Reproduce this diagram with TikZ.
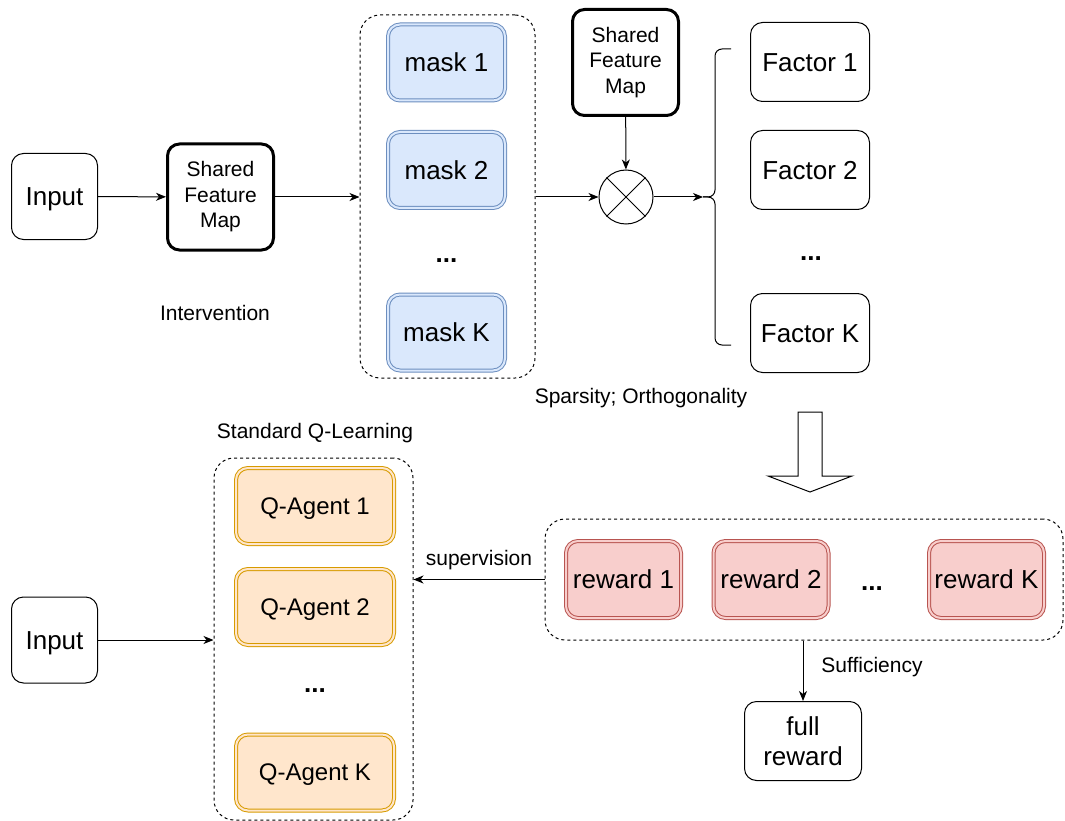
\documentclass[tikz,border=0pt]{standalone}
\usepackage{fontspec}
\setmainfont{Liberation Sans}
\usetikzlibrary{arrows.meta,positioning,shapes,fit}

\definecolor{maskfill}{HTML}{DAE8FC}
\definecolor{maskline}{HTML}{6C8EBF}
\definecolor{agentfill}{HTML}{FFE6CC}
\definecolor{agentline}{HTML}{D79B00}
\definecolor{rewardfill}{HTML}{F8CECC}
\definecolor{rewardline}{HTML}{B85450}

\begin{document}
\begin{tikzpicture}[
  x=1pt, y=-1pt,
  box/.style={rectangle, rounded corners=12pt, draw=black, line width=1pt, align=center, inner sep=0pt, font=\fontsize{26}{30}\selectfont},
  onebox/.style={box, text height=23.7pt, text depth=5.5pt},
  mapbox/.style={box, line width=3pt, minimum width=106pt, minimum height=106pt, font=\fontsize{21}{25.5}\selectfont},
  factorbox/.style={onebox, minimum width=119pt, minimum height=79pt},
  maskbox/.style={onebox, draw=maskline, double=maskfill, double distance=2pt, fill=maskfill, minimum width=117pt, minimum height=76pt},
  agentbox/.style={box, draw=agentline, double=agentfill, double distance=2pt, fill=agentfill, minimum width=158pt, minimum height=76pt, font=\fontsize{24}{28}\selectfont, text height=21.8pt, text depth=5pt},
  rewardbox/.style={onebox, draw=rewardline, double=rewardfill, double distance=2pt, fill=rewardfill, minimum width=115pt, minimum height=77pt},
  group/.style={rectangle, rounded corners=20pt, draw=black, line width=1pt, dash pattern=on 3pt off 3pt, inner sep=0pt},
  label/.style={font=\fontsize{21}{25}\selectfont, inner sep=0pt},
  dots/.style={font=\fontsize{26}{30}\selectfont\bfseries, anchor=base, inner sep=0pt},
  arrow/.style={-{Stealth[length=10pt, width=8pt, inset=3pt]}, line width=1pt}
]
\useasboundingbox (0,0) rectangle (1065,821);

\node[group, minimum width=175pt, minimum height=363pt] (maskgrp) at (447.5,196.5) {};
\node[group, minimum width=199pt, minimum height=362pt] (agentgrp) at (313.5,639) {};
\node[group, minimum width=518pt, minimum height=121pt] (rewardgrp) at (804,579.5) {};

\node[onebox, minimum width=86pt, minimum height=86pt] (input1) at (54.5,196.5) {Input};
\node[mapbox] (map1) at (220.5,197) {Shared\\Feature\\Map};
\node[label] (interv) at (215,313) {Intervention};

\node[maskbox] (mask1) at (446.5,62.5) {mask 1};
\node[maskbox] (mask2) at (446.5,170) {mask 2};
\node[dots] (maskdots) at (446.5,262) {...};
\node[maskbox] (maskK) at (446.5,332.5) {mask K};

\node[mapbox] (map2) at (625.5,62.5) {Shared\\Feature\\Map};
\node[circle, draw=black, line width=1pt, minimum size=54pt, inner sep=0pt] (mult) at (626,197) {};
\draw[line width=1pt] (mult.north west) -- (mult.south east);
\draw[line width=1pt] (mult.north east) -- (mult.south west);
\coordinate (bracetip) at (703,197);

\node[factorbox] (factor1) at (810,62) {Factor 1};
\node[factorbox] (factor2) at (810,170) {Factor 2};
\node[dots] (factordots) at (811,260) {...};
\node[factorbox] (factorK) at (810,333) {Factor K};
\node[label] (sparse) at (641,398) {Sparsity; Orthogonality};

\node[label] (stdq) at (315,433) {Standard Q-Learning};
\node[agentbox] (agent1) at (315,506) {Q-Agent 1};
\node[agentbox] (agent2) at (315,607) {Q-Agent 2};
\node[dots] (agentdots) at (315,692) {...};
\node[agentbox] (agentK) at (315,772.5) {Q-Agent K};
\node[onebox, minimum width=86pt, minimum height=86pt] (input2) at (54.5,640) {Input};

\node[rewardbox] (reward1) at (623.5,579.5) {reward 1};
\node[rewardbox] (reward2) at (771,579.5) {reward 2};
\node[dots] (rewarddots) at (872,590) {...};
\node[rewardbox] (rewardK) at (986.5,579.5) {reward K};
\node[box, minimum width=117pt, minimum height=79pt] (full) at (803,741) {full\\reward};
\node[label] (suff) at (872,667) {Sufficiency};

\draw[arrow] (input1) -- (map1);
\draw[arrow] (map1) -- (maskgrp.west |- map1);
\draw[arrow] (maskgrp.east |- mult) -- (mult);
\draw[arrow] (map2) -- (mult);
\draw[arrow] (mult) -- (bracetip);
\draw[line width=1pt, rounded corners=7pt] (731,49) -- (715,49) -- (715,197) -- (bracetip);
\draw[line width=1pt, rounded corners=7pt] (bracetip) -- (715,197) -- (715,345) -- (731,345);
\draw[line width=1pt, line join=miter] (798,412) -- (822,412) -- (822,476) -- (852,476) -- (810,492) -- (768,476) -- (798,476) -- cycle;

\draw[arrow] (rewardgrp.west) -- (agentgrp.east |- rewardgrp.west) node[label, midway, above=9pt] (superv) {supervision};
\draw[arrow] (input2) -- (agentgrp.west |- input2);
\draw[arrow] (full.north |- rewardgrp.south) -- (full);

\end{tikzpicture}
\end{document}
